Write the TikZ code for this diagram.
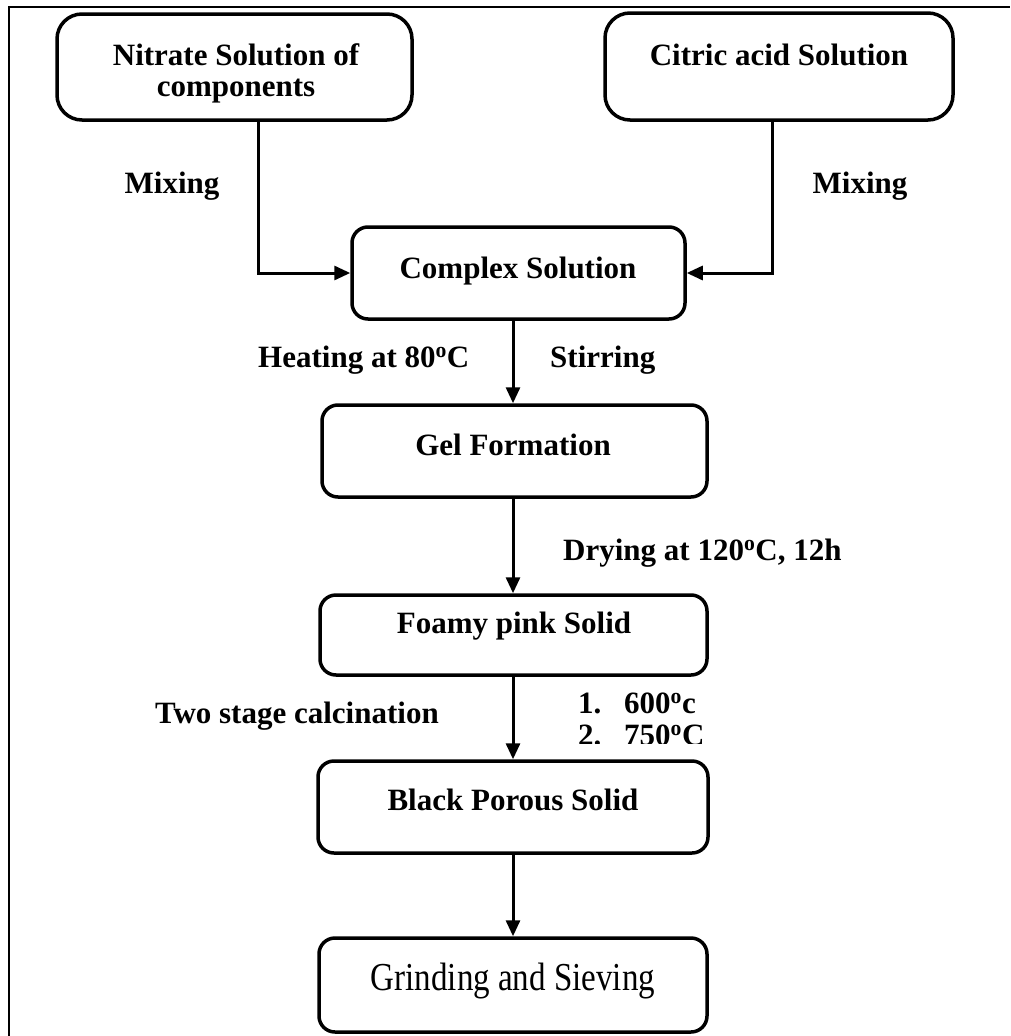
\documentclass[tikz,border=0pt]{standalone}
\usepackage{fontspec}
\setmainfont{Liberation Serif}
\usetikzlibrary{arrows.meta}

\tikzset{
  bigbox/.style={draw, line width=3.5pt, rounded corners=25pt, inner sep=0pt},
  stagebox/.style={draw, line width=3.5pt, rounded corners=16pt, inner sep=0pt},
  conn/.style={line width=3pt},
  arr/.style={conn, -{Triangle[length=16pt,width=14pt]}},
  txt/.style={inner sep=0pt, font=\fontsize{31}{31}\selectfont\bfseries},
}

\begin{document}
\begin{tikzpicture}[x=1pt,y=-1pt]
\useasboundingbox (0,0) rectangle (1010,1036);

% outer frame (top and left edges)
\draw[line width=2.5pt] (9,1036) -- (9,7) -- (1010,7);

% process boxes
\node[bigbox, minimum width=355pt, minimum height=106pt] (nitrate) at (234.5,67) {};
\node[bigbox, minimum width=348pt, minimum height=107pt] (citric) at (779,66.5) {};
\node[stagebox, minimum width=333pt, minimum height=92pt] (complex) at (518.5,273) {};
\node[stagebox, minimum width=385pt, minimum height=92pt] (gel) at (514.5,451) {};
\node[stagebox, minimum width=387pt, minimum height=80pt] (foamy) at (513.5,635) {};
\node[stagebox, minimum width=390pt, minimum height=92pt] (black) at (513,807) {};
\node[stagebox, minimum width=388pt, minimum height=94pt] (grind) at (513,985) {};

% box texts
\node[txt, align=center, anchor=center] (nitrate-t) at (236,73) {Nitrate Solution of\\components};
\node[txt, anchor=base] (citric-t) at (779,65) {Citric acid Solution};
\node[txt, anchor=base] (complex-t) at (518,278) {Complex Solution};
\node[txt, anchor=base] (gel-t) at (513,455) {Gel Formation};
\node[txt, anchor=base] (foamy-t) at (514,633) {Foamy pink Solid};
\node[txt, anchor=base] (black-t) at (513,810) {Black Porous Solid};
\node[inner sep=0pt, anchor=base, font=\fontsize{33}{33}\selectfont] (grind-t) at (513,990)
  {\scalebox{1}[1.2]{Grinding and Sieving}};

% connectors
\coordinate (spine) at (513,0);
\draw[arr] ([xshift=23.5pt]nitrate.south) |- (complex.west);
\draw[arr] ([xshift=-7pt]citric.south) |- (complex.east);
\draw[arr] (complex.south -| spine) -- (gel.north -| spine);
\draw[arr] (gel.south -| spine) -- (foamy.north -| spine);
\draw[arr] (foamy.south -| spine) -- (black.north -| spine);
\draw[arr] (black.south -| spine) -- (grind.north -| spine);

% step labels
\node[txt, anchor=base] (mix-l) at (172,193) {Mixing};
\node[txt, anchor=base] (mix-r) at (860,193) {Mixing};
\node[txt, anchor=base west] (heat) at (258,367) {Heating at 80\textsuperscript{o}C};
\node[txt, anchor=base west] (stir) at (550,367) {Stirring};
\node[txt, anchor=base west] (dry) at (563,560) {Drying at 120\textsuperscript{o}C, 12h};
\node[txt, anchor=base west] (calc) at (155,723) {Two stage calcination};
\node[txt, anchor=base west] (n1) at (578,713) {1.};
\node[txt, anchor=base west] (t1) at (624,713) {600\textsuperscript{o}c};
\begin{scope}
  \clip (560,715) rectangle (780,743);
  \node[txt, anchor=base west] (n2) at (578,745) {2.};
  \node[txt, anchor=base west] (t2) at (624,745) {750\textsuperscript{o}C};
\end{scope}
\end{tikzpicture}
\end{document}
